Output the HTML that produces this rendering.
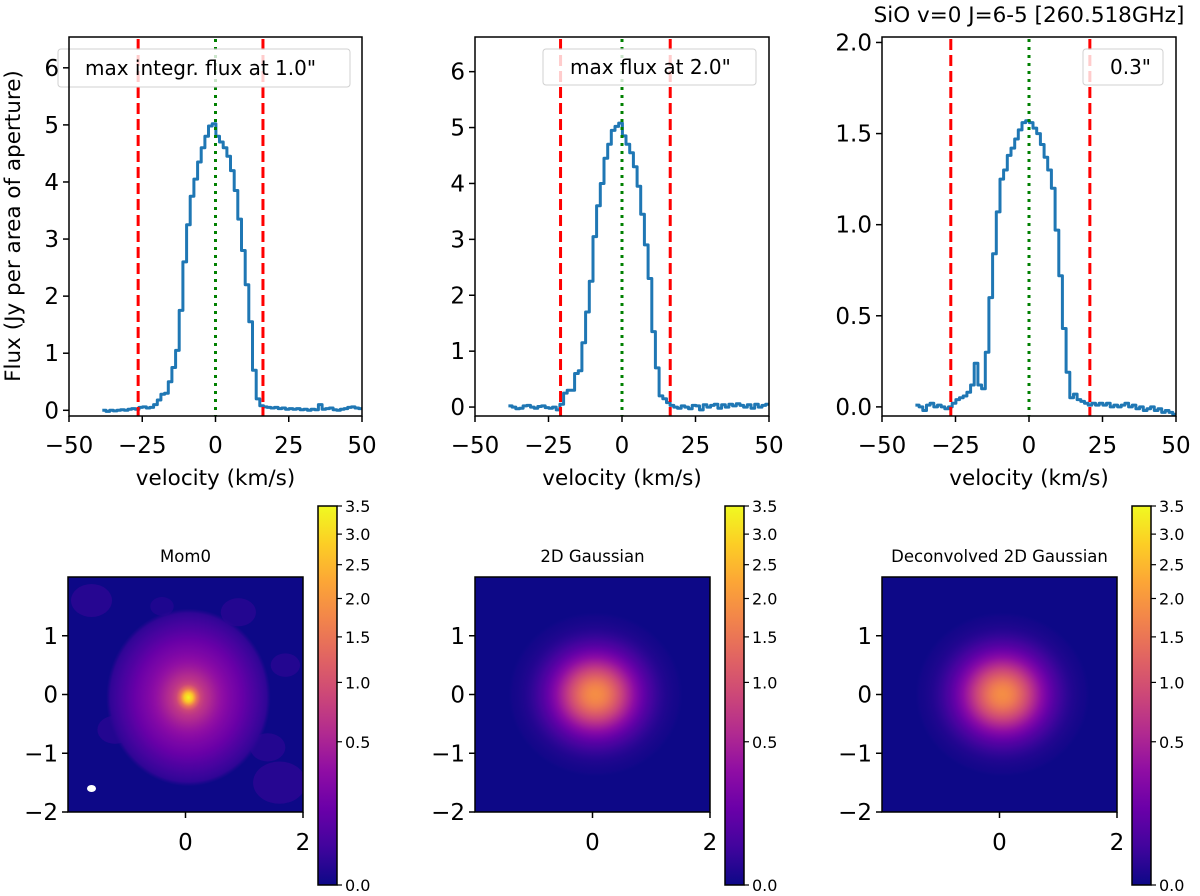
<!DOCTYPE html>
<html><head><meta charset="utf-8">
<style>
html,body{margin:0;padding:0;background:#fff;}
svg{display:block;font-family:"DejaVu Sans","Liberation Sans",sans-serif;}
</style></head>
<body>
<svg id="fig" width="1200" height="896" viewBox="0 0 1200 896" xmlns="http://www.w3.org/2000/svg">
<defs>
<linearGradient id="plasmaBar" x1="0" y1="1" x2="0" y2="0">
<stop offset="0" stop-color="#0d0887"/><stop offset="0.1" stop-color="#41049d"/><stop offset="0.2" stop-color="#6a00a8"/><stop offset="0.3" stop-color="#8f0da4"/><stop offset="0.4" stop-color="#b12a90"/><stop offset="0.5" stop-color="#cc4778"/><stop offset="0.6" stop-color="#e16462"/><stop offset="0.7" stop-color="#f2844b"/><stop offset="0.8" stop-color="#fca636"/><stop offset="0.9" stop-color="#fcce25"/><stop offset="1" stop-color="#f0f921"/>
</linearGradient>
</defs>
<text x="1029" y="22" font-size="21.5" text-anchor="middle">SiO v=0 J=6-5 [260.518GHz]</text>
<text transform="translate(20,226) rotate(-90)" font-size="21.5" text-anchor="middle">Flux (Jy per area of aperture)</text>
<g id="spectra"></g>
<g id="maps"></g>
</svg>
<script>
// ---- spectrum data (bins start at -38 km/s, step 1.25 km/s) ----
const binStart = -38;
const binWidth = 1.25;
const flux1 = [0.00,-0.02,0.00,-0.01,0.00,0.01,0.00,0.02,0.03,0.02,0.05,0.06,0.04,0.05,0.10,0.18,0.28,0.30,0.50,0.75,1.05,1.75,2.6,3.25,3.75,4.05,4.35,4.6,4.8,4.98,5.02,4.8,4.7,4.6,4.45,4.2,3.85,3.35,2.8,2.2,1.55,0.7,0.2,0.08,0.06,0.05,0.04,0.05,0.03,0.04,0.02,0.03,0.02,0.03,0.01,0.02,0.0,0.02,0.01,0.1,0.02,0.03,0.04,0.01,0.0,0.02,0.03,0.05,0.06,0.04,0.03];
const flux2 = [0.02,0.0,-0.03,-0.02,0.02,0.03,0.0,-0.02,0.01,0.02,-0.01,-0.02,0.0,-0.05,0.05,0.25,0.3,0.3,0.6,0.65,1.15,1.7,2.25,3.05,3.6,4.0,4.45,4.7,4.95,5.02,5.08,4.85,4.7,4.55,4.3,3.95,3.45,2.9,2.3,1.35,0.7,0.2,0.15,0.08,0.03,0.0,-0.02,0.02,0.0,-0.03,0.03,0.02,-0.05,0.04,0.0,0.03,0.05,-0.02,0.04,0.0,0.05,0.02,0.06,0.03,0.0,0.04,-0.02,0.05,0.0,0.03,0.05];
const flux3 = [0.01,0.0,-0.02,0.01,0.02,0.0,0.01,0.0,-0.01,0.0,0.02,0.04,0.05,0.06,0.08,0.12,0.24,0.12,0.1,0.3,0.6,0.84,1.07,1.25,1.3,1.38,1.42,1.47,1.52,1.56,1.57,1.56,1.53,1.5,1.44,1.37,1.3,1.2,0.97,0.72,0.43,0.19,0.05,0.07,0.04,0.03,0.02,0.01,0.02,0.01,0.02,0.01,0.02,0.0,0.01,0.0,0.01,0.02,0.0,0.01,-0.01,0.0,-0.02,-0.01,0.0,-0.02,-0.01,-0.03,-0.02,-0.03,-0.04];
const redLines1 = [-26.4, 16.2];
const redLines2 = [-20.9, 16.4];
const redLines3 = [-26.6, 20.7];
const xTicks = [-50,-25,0,25,50];
const yTicks1 = [0,1,2,3,4,5,6];
const yTicks3 = [0.0,0.5,1.0,1.5,2.0];
const legendLabels = ['max integr. flux at 1.0"','max flux at 2.0"','0.3"'];
// ---- map colorbar ticks ----
const cbTicks = [0.0,0.5,1.0,1.5,2.0,2.5,3.0,3.5];
const cbMax = 3.5;
const mapTicks = [-2,-1,0,1,2];
const mapTitles = ['Mom0','2D Gaussian','Deconvolved 2D Gaussian'];
const peakMom0 = 3.5, peakGauss = 1.85, peakDeconv = 1.85;

const NS='http://www.w3.org/2000/svg';
function mk(tag, attrs, parent){const e=document.createElementNS(NS,tag);for(const k in attrs)e.setAttribute(k,attrs[k]);parent.appendChild(e);return e;}

const specPanels=[
 {L:69,R:362,T:37,B:416,ymin:-0.1,ymax:6.54,flux:flux1,red:redLines1,yt:yTicks1,dec:0,leg:[58,49,292,38],legTx:85},
 {L:475,R:769,T:37,B:416,ymin:-0.16,ymax:6.62,flux:flux2,red:redLines2,yt:yTicks1,dec:0,leg:[543,49,213,36],legTx:570},
 {L:882,R:1176,T:37,B:416,ymin:-0.05,ymax:2.03,flux:flux3,red:redLines3,yt:yTicks3,dec:1,leg:[1083,49,80,36],legTx:1110}
];
const sg=document.getElementById('spectra');
specPanels.forEach((p,pi)=>{
 const g=mk('g',{},sg);
 
 
 const X=v=>p.L+(v+50)/100*(p.R-p.L);
 const Y=f=>p.B-(f-p.ymin)/(p.ymax-p.ymin)*(p.B-p.T);
 let d='';
 p.flux.forEach((f,i)=>{const v0=binStart+i*binWidth-binWidth/2, v1=v0+binWidth;
   d+=(i===0?'M':'L')+X(v0).toFixed(1)+','+Y(f).toFixed(1)+'L'+X(v1).toFixed(1)+','+Y(f).toFixed(1);});
 const line=mk('path',{d:d,fill:'none',stroke:'#1f77b4','stroke-width':3,'stroke-linejoin':'round'},g);
 
 
 p.red.forEach(v=>{const l=mk('line',{x1:X(v),x2:X(v),y1:p.T+2,y2:p.B,stroke:'#ff0000','stroke-width':3,'stroke-dasharray':'11,5'},g);
   
   });
 const gl=mk('line',{x1:X(0),x2:X(0),y1:p.T+2,y2:p.B,stroke:'#008000','stroke-width':3,'stroke-dasharray':'3,5'},g);
 
 
 const lg=mk('g',{},g);
 
 
 mk('rect',{x:p.leg[0],y:p.leg[1],width:p.leg[2],height:p.leg[3],rx:3,fill:'rgba(255,255,255,0.8)',stroke:'#d0d0d0','stroke-width':1},lg);
 const lt=mk('text',{x:p.legTx,y:p.leg[1]+p.leg[3]/2+7,'font-size':20},lg);
 lt.textContent=legendLabels[pi];
 
 
 mk('rect',{x:p.L,y:p.T,width:p.R-p.L,height:p.B-p.T,fill:'none',stroke:'#000','stroke-width':1.5},g);
 xTicks.forEach(t=>{mk('line',{x1:X(t),x2:X(t),y1:p.B,y2:p.B+6,stroke:'#000','stroke-width':1.5},g);
   const tx=mk('text',{x:X(t),y:p.B+37,'font-size':23,'text-anchor':'middle'},g);
   tx.textContent=t<0?'\u2212'+Math.abs(t):String(t);
   
   });
 p.yt.forEach(t=>{mk('line',{x1:p.L-6,x2:p.L,y1:Y(t),y2:Y(t),stroke:'#000','stroke-width':1.5},g);
   const tx=mk('text',{x:p.L-10,y:Y(t)+8,'font-size':23,'text-anchor':'end'},g);
   tx.textContent=t.toFixed(p.dec);
   
   });
 const xl=mk('text',{x:(p.L+p.R)/2,y:485,'font-size':21.5,'text-anchor':'middle'},g);
 xl.textContent='velocity (km/s)';
 
 
});

// ---- maps ----
const plasma=['#0d0887','#41049d','#6a00a8','#8f0da4','#b12a90','#cc4778','#e16462','#f2844b','#fca636','#fcce25','#f0f921'];
function hex(h){return [parseInt(h.substr(1,2),16),parseInt(h.substr(3,2),16),parseInt(h.substr(5,2),16)];}
function cmap(t){t=Math.max(0,Math.min(1,t));const s=t*10,i=Math.min(9,Math.floor(s)),f=s-i;const a=hex(plasma[i]),b=hex(plasma[i+1]);
 return 'rgb('+a.map((c,k)=>Math.round(c+(b[k]-c)*f)).join(',')+')';}
function norm(v){return Math.sqrt(Math.max(0,v)/cbMax);}
const defs=document.querySelector('defs');
const mg=document.getElementById('maps');
const maps=[{L:68,C:186,cb:318},{L:475,C:593,cb:725},{L:882,C:1000,cb:1132}];
const T=577,B=812,S=235,cbT=506,cbB=885;
maps.forEach((m,mi)=>{
 const g=mk('g',{},mg);
 
 
 const sc=S/4;
 const X=u=>m.L+(u+2)*sc, Y=u=>B-(u+2)*sc;
 const clipId='clip'+mi;
 const cp=mk('clipPath',{id:clipId},defs);mk('rect',{x:m.L,y:T,width:S,height:S},cp);
 const ig=mk('g',{'clip-path':'url(#'+clipId+')'},g);
 
 
 mk('rect',{x:m.L,y:T,width:S,height:S,fill:plasma[0]},ig);
 const gid='rg'+mi;
 const rg=mk('radialGradient',{id:gid},defs);
 let R, fn;
 if(mi===0){R=1.4; fn=r=>2.7*Math.exp(-r*r/(2*0.08*0.08))+0.7*Math.exp(-r*r/(2*0.3*0.3))+0.22/(1+Math.exp((r-0.95)/0.15));}
 else {const pk=mi===1?peakGauss:peakDeconv; R=1.4; fn=r=>pk*Math.exp(-r*r/(2*0.33*0.33));}
 for(let k=0;k<=20;k++){const r=k/20*R;const st=mk('stop',{offset:k/20,'stop-color':cmap(norm(fn(r)))},rg);
   if(k===20)st.setAttribute('stop-opacity',0);}
 if(mi===0){
   const blobs=[[-1.6,1.6,0.35,0.04],[1.6,-1.5,0.45,0.04],[1.7,0.5,0.25,0.03],[-1.2,-0.6,0.3,0.03],[0.9,1.4,0.3,0.03],[-0.4,1.5,0.2,0.02],[1.4,-0.9,0.3,0.03]];
   blobs.forEach(b=>{mk('ellipse',{cx:X(b[0]),cy:Y(b[1]),rx:b[2]*sc,ry:b[2]*sc*0.8,fill:cmap(norm(b[3])),opacity:0.45},ig);});
   mk('ellipse',{cx:X(0.05),cy:Y(-0.05),rx:R*sc,ry:R*sc*1.08,fill:'url(#'+gid+')'},ig);
   const be=mk('ellipse',{cx:X(-1.6),cy:Y(-1.6),rx:4.5,ry:3.5,fill:'#fff'},ig);
   
   
 } else {
   mk('ellipse',{cx:X(0.05),cy:Y(0),rx:R*sc*1.06,ry:R*sc,fill:'url(#'+gid+')'},ig);
 }
 mk('rect',{x:m.L,y:T,width:S,height:S,fill:'none',stroke:'#000','stroke-width':1.5},g);
 [0,2].forEach(t=>{mk('line',{x1:X(t),x2:X(t),y1:B,y2:B+6,stroke:'#000','stroke-width':1.5},g);
   const tx=mk('text',{x:X(t),y:850,'font-size':23,'text-anchor':'middle'},g);tx.textContent=String(t);
   
   });
 [-2,-1,0,1].forEach(t=>{mk('line',{x1:m.L-6,x2:m.L,y1:Y(t),y2:Y(t),stroke:'#000','stroke-width':1.5},g);
   const tx=mk('text',{x:m.L-10,y:Y(t)+8,'font-size':23,'text-anchor':'end'},g);tx.textContent=t<0?'\u2212'+Math.abs(t):String(t);
   
   });
 const tt=mk('text',{x:m.L+S/2,y:562,'font-size':16.5,'text-anchor':'middle'},g);tt.textContent=mapTitles[mi];
 
 
 const cb=mk('g',{},g);
 
 
 mk('rect',{x:m.cb,y:cbT,width:19,height:cbB-cbT,fill:'url(#plasmaBar)',stroke:'#000','stroke-width':1.5},cb);
 cbTicks.forEach(t=>{const y=cbB-norm(t)*(cbB-cbT);
   mk('line',{x1:m.cb+19,x2:m.cb+24,y1:y,y2:y,stroke:'#000','stroke-width':1.2},cb);
   const tx=mk('text',{x:m.cb+27,y:y+6,'font-size':16},cb);tx.textContent=t.toFixed(1);
   
   });
});
</script>
</body></html>
